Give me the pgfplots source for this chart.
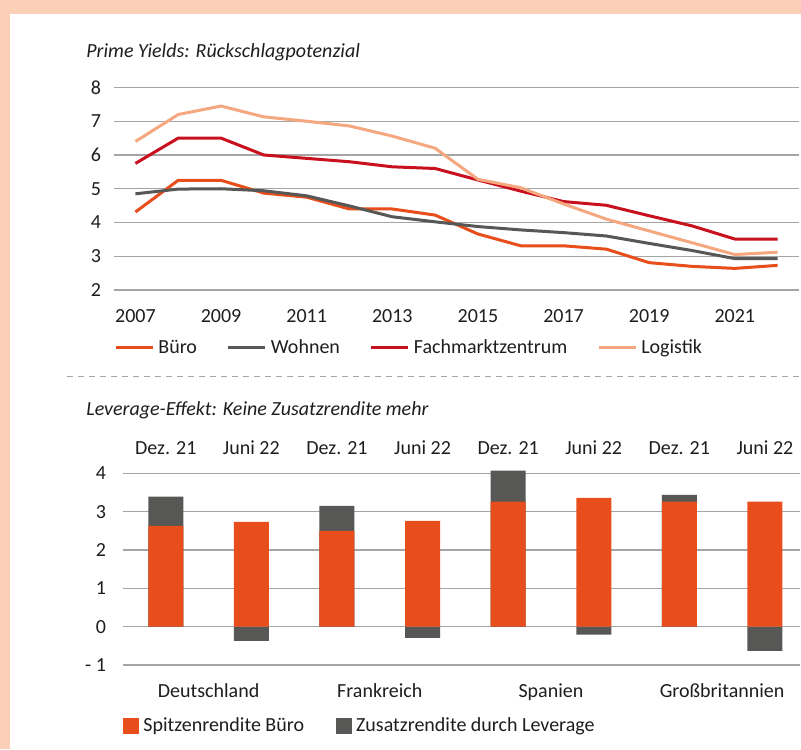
\documentclass[border=0pt]{standalone}
\usepackage{fontspec}
\setmainfont{Carlito}
\usepackage{pgfplots}
\pgfplotsset{compat=1.18}
\definecolor{peach}{RGB}{252,208,182}
\definecolor{buero}{RGB}{232,78,27}
\definecolor{wohnen}{RGB}{87,87,86}
\definecolor{fmz}{RGB}{200,16,30}
\definecolor{logi}{RGB}{245,168,128}
\definecolor{gridc}{RGB}{165,165,165}
\definecolor{txt}{RGB}{30,30,30}
\begin{document}
\fontsize{10pt}{12pt}\selectfont
\begin{tikzpicture}
\useasboundingbox (0,0) rectangle (400.5pt,374.5pt);
\fill[white] (0,0) rectangle (400.5pt,374.5pt);
\fill[peach] (0,367.5pt) rectangle (400.5pt,374.5pt);
\fill[peach] (0,0) rectangle (5pt,374.5pt);
\node[anchor=base west, inner sep=0pt, text=txt, font=\itshape] at (43pt,345.5pt) {Prime Yields: Rückschlagpotenzial};
\node[anchor=base west, inner sep=0pt, text=txt, font=\itshape] at (43pt,166.5pt) {Leverage-Effekt: Keine Zusatzrendite mehr};
\draw[gridc, line width=0.5pt, dash pattern=on 3pt off 2.5pt] (33.5pt,186pt) -- (400.5pt,186pt);

\begin{axis}[
  at={(57pt,229.5pt)}, anchor=south west,
  scale only axis, width=342.5pt, height=101.25pt,
  xmin=2006.5, xmax=2022.5, ymin=2, ymax=8,
  axis line style={draw=none},
  major tick length=0pt,
  ymajorgrids, grid style={gridc, line width=0.65pt},
  xtick={2007,2009,...,2021}, ytick={2,3,...,8},
  /pgf/number format/assume math mode=true,
  /pgf/number format/1000 sep={},
  ticklabel style={text=txt, font=\fontsize{10pt}{12pt}\selectfont},
  yticklabel style={xshift=-3pt},
  xticklabel style={yshift=-6pt},
  legend columns=4,
  legend style={at={(0,-0.2864)}, anchor=west, draw=none, fill=none, inner sep=0pt,
    font=\fontsize{10pt}{12pt}\selectfont, text=txt,
    /tikz/every even column/.append style={column sep=13pt}},
  legend image code/.code={\draw[#1] (0pt,0pt) -- (18.5pt,0pt);},
  every axis plot/.append style={line width=1.5pt, line join=round},
]
\addplot[buero] coordinates {(2007,4.31) (2008,5.25) (2009,5.25) (2010,4.87) (2011,4.75) (2012,4.40) (2013,4.40) (2014,4.22) (2015,3.66) (2016,3.31) (2017,3.31) (2018,3.21) (2019,2.81) (2020,2.70) (2021,2.64) (2022,2.73)};
\addlegendentry{Büro}
\addplot[wohnen] coordinates {(2007,4.85) (2008,4.99) (2009,5.00) (2010,4.94) (2011,4.79) (2012,4.49) (2013,4.17) (2014,4.02) (2015,3.88) (2016,3.78) (2017,3.70) (2018,3.60) (2019,3.38) (2020,3.17) (2021,2.93) (2022,2.93)};
\addlegendentry{Wohnen}
\addplot[fmz] coordinates {(2007,5.75) (2008,6.50) (2009,6.50) (2010,6.00) (2011,5.90) (2012,5.80) (2013,5.65) (2014,5.60) (2015,5.26) (2016,4.93) (2017,4.62) (2018,4.51) (2019,4.20) (2020,3.90) (2021,3.51) (2022,3.51)};
\addlegendentry{Fachmarktzentrum}
\addplot[logi] coordinates {(2007,6.40) (2008,7.20) (2009,7.45) (2010,7.13) (2011,7.00) (2012,6.86) (2013,6.56) (2014,6.20) (2015,5.28) (2016,5.03) (2017,4.55) (2018,4.10) (2019,3.75) (2020,3.40) (2021,3.05) (2022,3.12)};
\addlegendentry{Logistik}
\end{axis}

\begin{axis}[
  at={(61.5pt,42pt)}, anchor=south west,
  scale only axis, width=338.5pt, height=95.85pt,
  xmin=-0.5, xmax=7.41, ymin=-1, ymax=4,
  clip=false,
  axis line style={draw=none},
  major tick length=0pt,
  ymajorgrids, grid style={gridc, line width=0.65pt},
  xtick={0,1,...,7},
  xticklabels={Dez. 21,Juni 22,Dez. 21,Juni 22,Dez. 21,Juni 22,Dez. 21,Juni 22},
  xticklabel pos=upper,
  ytick={-1,0,...,4},
  yticklabels={- 1,0,1,2,3,4},
  ticklabel style={text=txt, font=\fontsize{10pt}{12pt}\selectfont},
  yticklabel style={xshift=-5pt},
  xticklabel style={yshift=6pt},
  ybar, bar width=17.5pt, bar shift=0pt,
  legend columns=2,
  reverse legend,
  legend style={at={(0,-0.318)}, anchor=west, draw=none, fill=none, inner sep=0pt,
    font=\fontsize{10pt}{12pt}\selectfont, text=txt,
    /tikz/every even column/.append style={column sep=14pt}},
  legend image code/.code={\fill[#1] (0pt,-4pt) rectangle (8pt,4pt);},
]
\addplot[fill=wohnen, draw=none] coordinates {(0,3.39) (1,-0.37) (2,3.15) (3,-0.29) (4,4.07) (5,-0.21) (6,3.44) (7,-0.63)};
\addlegendentry{Zusatzrendite durch Leverage}
\addplot[fill=buero, draw=none] coordinates {(0,2.63) (1,2.73) (2,2.50) (3,2.76) (4,3.26) (5,3.36) (6,3.26) (7,3.26)};
\addlegendentry{Spitzenrendite Büro}
\node[anchor=north, text=txt, inner sep=0pt] at (axis cs:0.5,-1) [yshift=-9pt] {Deutschland};
\node[anchor=north, text=txt, inner sep=0pt] at (axis cs:2.5,-1) [yshift=-9pt] {Frankreich};
\node[anchor=north, text=txt, inner sep=0pt] at (axis cs:4.5,-1) [yshift=-9pt] {Spanien};
\node[anchor=north, text=txt, inner sep=0pt] at (axis cs:6.5,-1) [yshift=-9pt] {Großbritannien};
\end{axis}
\end{tikzpicture}
\end{document}
